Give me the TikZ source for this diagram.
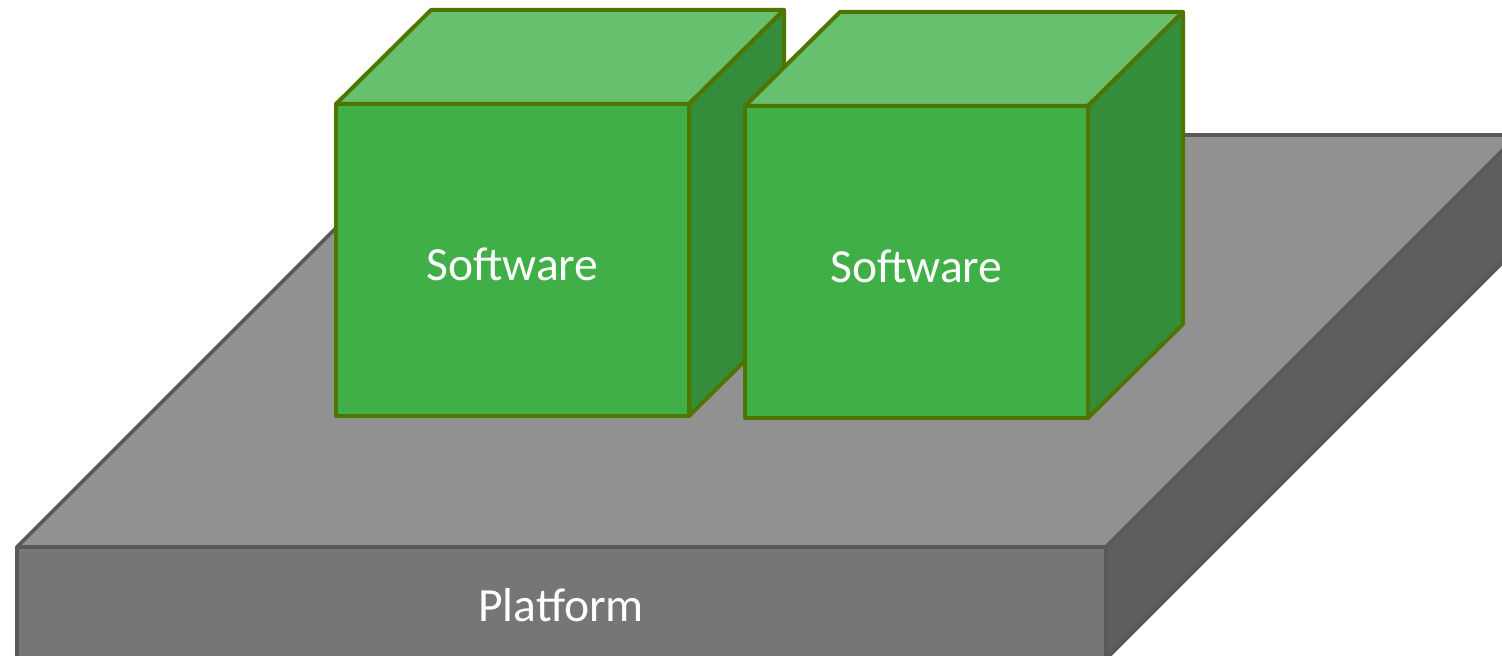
\documentclass[tikz,border=0pt]{standalone}
\usepackage{fontspec}
\setmainfont{Carlito}

\definecolor{platTop}{HTML}{919191}
\definecolor{platFront}{HTML}{767676}
\definecolor{platSide}{HTML}{5E5E5E}
\definecolor{platLine}{HTML}{595959}
\definecolor{softTop}{HTML}{66C06E}
\definecolor{softFront}{HTML}{41AF47}
\definecolor{softSide}{HTML}{348D3A}
\definecolor{softLine}{HTML}{4E7500}

\tikzset{
  platface/.style={draw=platLine, line width=1.8pt, line join=round},
  softface/.style={draw=softLine, line width=2pt, line join=round},
  boxlabel/.style={text=white, font=\fontsize{23.8}{28}\selectfont}
}

\begin{document}
\begin{tikzpicture}[x=0.5pt, y=-0.5pt]

    \useasboundingbox (0,0) rectangle (1502,656);

    % platform
    \begin{scope}
    \clip (0,0) rectangle (1502,656);
    \draw[platface, fill=platTop] (17,547) -- (429,135) -- (1518,135) -- (1106,547) -- cycle;
    \draw[platface, fill=platSide] (1106,547) -- (1518,135) -- (1518,247) -- (1106,659) -- cycle;
    \draw[platface, fill=platFront] (17,547) rectangle (1106,659);
    \end{scope}
    \node[boxlabel] (platform) at (561,605) {Platform};

    % software boxes
    \foreach \xa/\xb/\ya/\name in {336/689/104/softA, 745/1088/106/softB}
    {
    \draw[softface, fill=softTop] (\xa,\ya) -- ++(95,-94) -- (\xb+95,\ya-94) -- (\xb,\ya) -- cycle;
    \draw[softface, fill=softSide] (\xb,\ya) -- ++(95,-94) -- ++(0,312) -- ++(-95,94) -- cycle;
    \draw[softface, fill=softFront] (\xa,\ya) rectangle (\xb,\ya+312);
    \node[boxlabel] (\name) at ({(\xa+\xb)/2},\ya+160) {Software};
    }

\end{tikzpicture}
\end{document}
